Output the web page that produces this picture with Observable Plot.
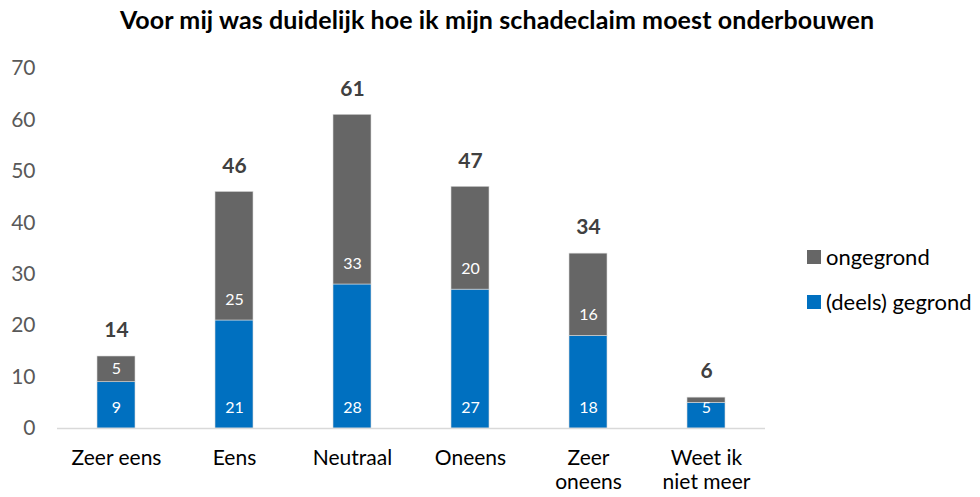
<!DOCTYPE html>
<html><head><meta charset="utf-8">
<script src="https://cdn.jsdelivr.net/npm/d3@7"></script>
<script src="https://cdn.jsdelivr.net/npm/@observablehq/plot@0.6"></script>
<style>
body{margin:0;background:#fff;font-family:Lato,"Open Sans",sans-serif;}
#wrap{position:relative;width:980px;height:497px;}
#title{position:absolute;left:0;top:4px;width:994px;text-align:center;font-weight:bold;font-size:25px;letter-spacing:0.1px;color:#000;}
.leg{position:absolute;left:807px;font-size:22px;color:#000;display:flex;align-items:center;line-height:1;}
.sw{width:14px;height:14px;margin-right:5px;display:inline-block;}
</style></head>
<body><div id="wrap"><div id="title">Voor mij was duidelijk hoe ik mijn schadeclaim moest onderbouwen</div>
<div class="leg" style="top:246px"><span class="sw" style="background:#666666"></span>ongegrond</div>
<div class="leg" style="top:291px"><span class="sw" style="background:#0070c0"></span>(deels) gegrond</div>
</div>
<script>
const categories = ["Zeer eens","Eens","Neutraal","Oneens","Zeer oneens","Weet ik niet meer"];
const categoryLabels = ["Zeer eens","Eens","Neutraal","Oneens","Zeer\noneens","Weet ik\nniet meer"];
const gegrond = [9,21,28,27,18,5];
const ongegrond = [5,25,33,20,16,1];
const yTicks = [0,10,20,30,40,50,60,70];
const seriesNames = ["(deels) gegrond","ongegrond"];
const colors = ["#0070c0","#666666"];

const rows = [];
categories.forEach((c,i)=>rows.push({cat:c, series:seriesNames[0], value:gegrond[i]}));
categories.forEach((c,i)=>rows.push({cat:c, series:seriesNames[1], value:ongegrond[i]}));
const totals = categories.map((c,i)=>({cat:c, total:gegrond[i]+ongegrond[i]}));
const labelMap = new Map(categories.map((c,i)=>[c,categoryLabels[i]]));
const atBase = d => d.series===seriesNames[0] || d.value>=8;

const chart = Plot.plot({
  width:980, height:497,
  marginLeft:57, marginRight:215, marginTop:68, marginBottom:69,
  style:{fontFamily:"Lato, 'Open Sans', sans-serif", background:"transparent"},
  x:{domain:categories, paddingInner:0.68, paddingOuter:0.34, label:null},
  y:{domain:[0,70], label:null},
  color:{domain:seriesNames, range:colors},
  marks:[
    Plot.axisY({ticks:yTicks, tickSize:0, tickPadding:22, fontSize:21, color:"#595959", label:null}),
    Plot.axisX({tickSize:0, tickPadding:20, fontSize:21, color:"#000", tickFormat:d=>labelMap.get(d), label:null, lineHeight:1.12}),
    Plot.barY(rows, {x:"cat", y:"value", fill:"series", stroke:"#d9d9d9", strokeWidth:0.6}),
    Plot.ruleY([0], {stroke:"#d9d9d9", strokeWidth:1.5}),
    Plot.text(rows, Plot.stackY1({x:"cat", y:"value", z:"series", text:d=>atBase(d)?d.value:"", dy:-21, fill:"white", fontSize:16})),
    Plot.text(rows, Plot.stackY({x:"cat", y:"value", z:"series", text:d=>(!atBase(d) && d.value>1)?d.value:"", fill:"white", fontSize:16})),
    Plot.text(totals, {x:"cat", y:"total", text:"total", dy:-26, fontSize:21, fontWeight:"bold", fill:"#404040"})
  ]
});
document.getElementById("wrap").prepend(chart);
</script></body></html>
